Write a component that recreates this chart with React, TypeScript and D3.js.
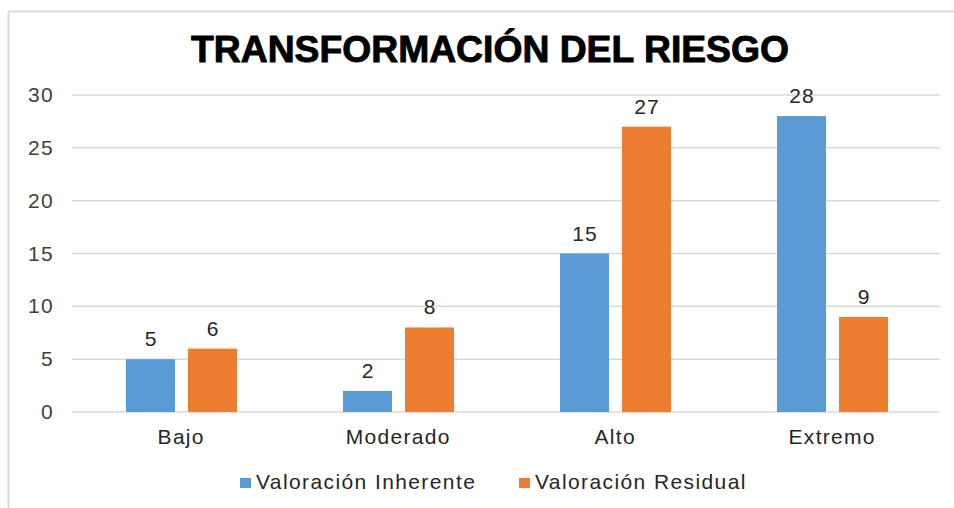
import React from "react";
import * as d3 from "d3";

const categories = ["Bajo", "Moderado", "Alto", "Extremo"];
const seriesNames = ["Valoración Inherente", "Valoración Residual"];
const inherente = [5, 2, 15, 28];
const residual = [6, 8, 27, 9];
const yTicks = [0, 5, 10, 15, 20, 25, 30];
const title = "TRANSFORMACIÓN DEL RIESGO";
const colors = ["#5B9BD5", "#ED7D31"];

const W = 954;
const H = 508;
const font = "'Liberation Sans', Arial, sans-serif";

export default function App() {
  const series = [inherente, residual];
  const x0 = d3.scaleBand<string>().domain(categories).range([72, 940]).paddingInner(0).paddingOuter(0);
  const x1 = d3.scaleBand<string>().domain(seriesNames).range([54, 165]).paddingInner(0.21).paddingOuter(0);
  const y = d3.scaleLinear().domain([0, 30]).range([412, 95]);
  const legendX = [240, 519];

  return (
    <svg width={W} height={H} style={{ position: "absolute", left: 0, top: 0, background: "#fff" }}>
      <rect x={0} y={0} width={W} height={H} fill="#fff" />
      <line x1={8.5} y1={11.5} x2={W} y2={11.5} stroke="#d9d9d9" strokeWidth={2} />
      <line x1={8.5} y1={11.5} x2={8.5} y2={H} stroke="#d9d9d9" strokeWidth={2} />
      <text
        x={191}
        y={62}
        fontFamily={font}
        fontWeight={700}
        fontSize={37}
        textLength={598}
        lengthAdjust="spacingAndGlyphs"
        fill="#000"
        stroke="#000"
        strokeWidth={0.9}
      >
        {title}
      </text>
      {yTicks.map((t) => (
        <g key={t}>
          <line x1={72} x2={940} y1={y(t)} y2={y(t)} stroke="#d9d9d9" strokeWidth={1.5} />
          <text
            x={54}
            y={y(t) + 7}
            textAnchor="end"
            fontFamily={font}
            fontSize={21}
            letterSpacing={1.3}
            fill="#404040"
          >
            {t}
          </text>
        </g>
      ))}
      {categories.map((c, i) => (
        <g key={c}>
          {series.map((s, j) => {
            const bx = (x0(c) as number) + (x1(seriesNames[j]) as number);
            const bw = x1.bandwidth();
            return (
              <g key={j}>
                <rect x={bx} y={y(s[i])} width={bw} height={y(0) - y(s[i])} fill={colors[j]} />
                <text
                  x={bx + bw / 2 + 0.6}
                  y={y(s[i]) - 13}
                  textAnchor="middle"
                  fontFamily={font}
                  fontSize={21}
                  letterSpacing={1.2}
                  fill="#262626"
                >
                  {s[i]}
                </text>
              </g>
            );
          })}
          <text
            x={(x0(c) as number) + x0.bandwidth() / 2 + 0.7}
            y={444}
            textAnchor="middle"
            fontFamily={font}
            fontSize={21}
            letterSpacing={1.3}
            fill="#262626"
          >
            {c}
          </text>
        </g>
      ))}
      {seriesNames.map((n, j) => (
        <g key={n}>
          <rect x={legendX[j]} y={478} width={11} height={10} fill={colors[j]} />
          <text x={legendX[j] + 16} y={489} fontFamily={font} fontSize={21} letterSpacing={1.4} fill="#262626">
            {n}
          </text>
        </g>
      ))}
    </svg>
  );
}
